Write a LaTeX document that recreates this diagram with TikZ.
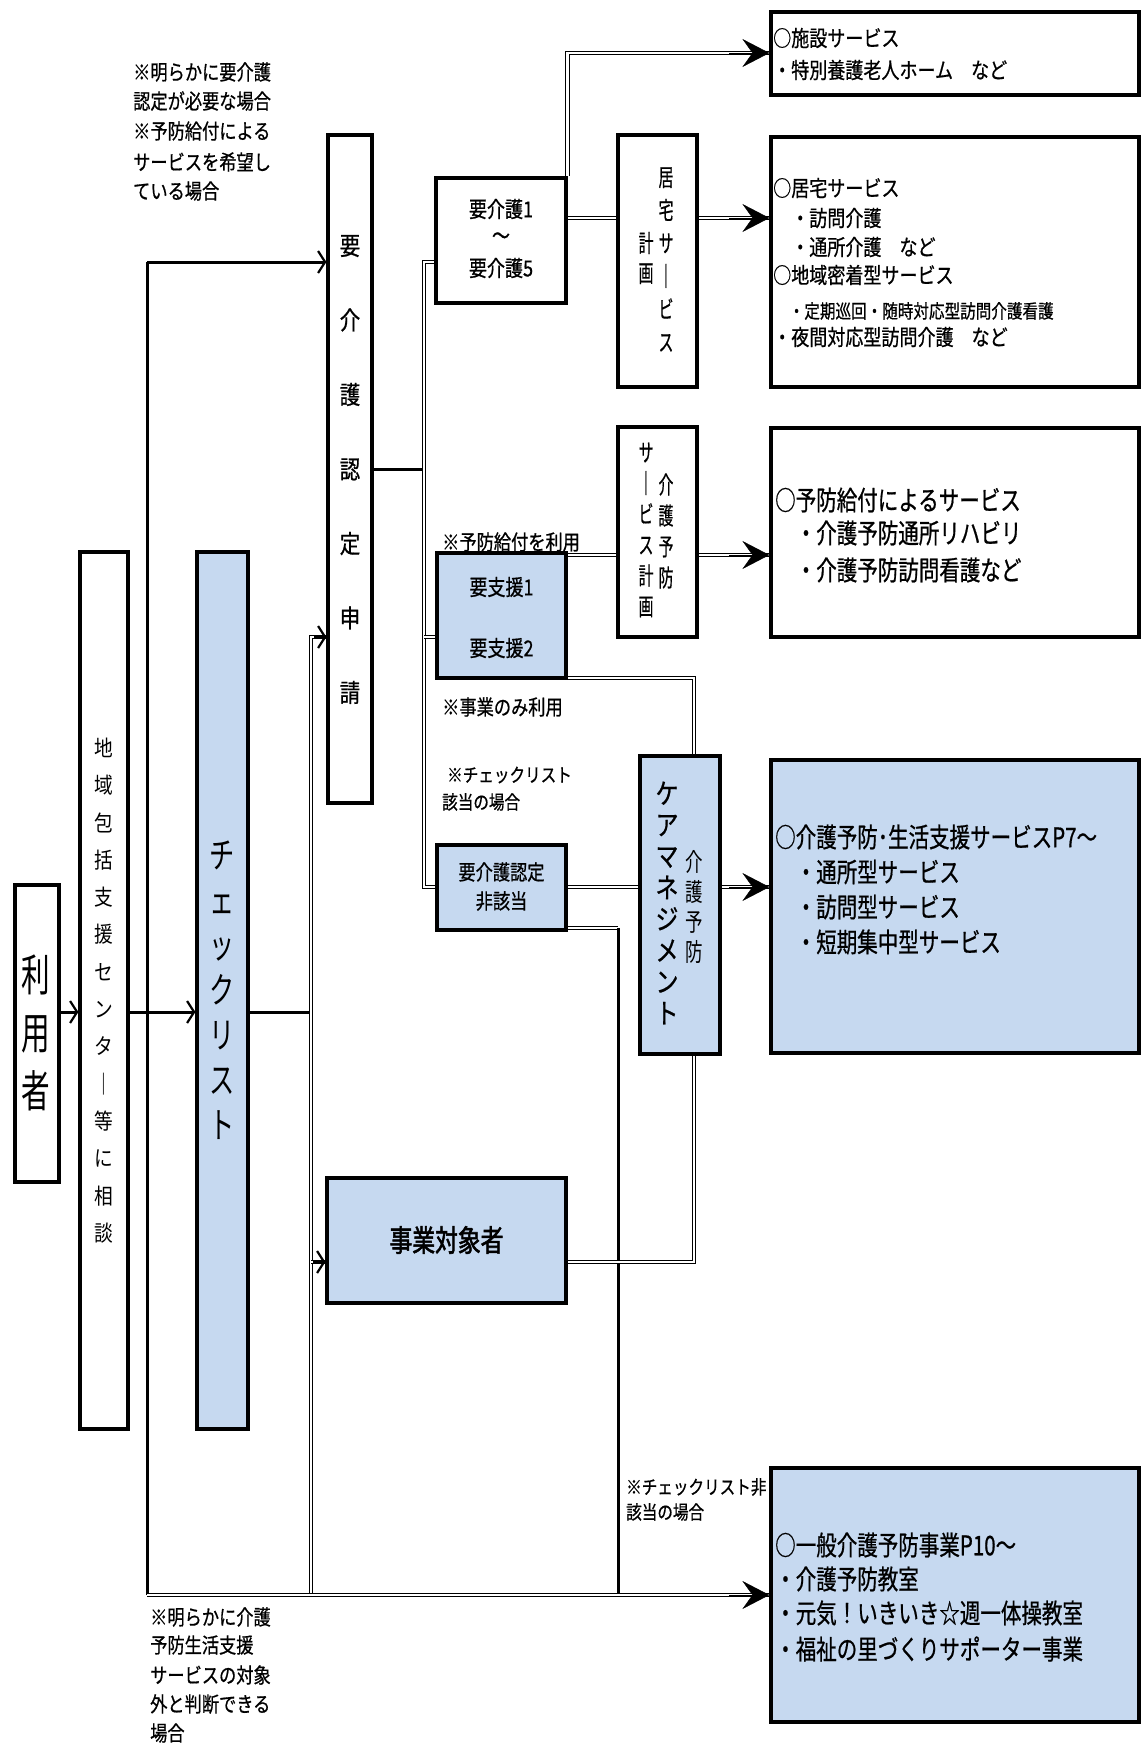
\documentclass[tikz,border=0pt]{standalone}
\usepackage{fontspec}
\usetikzlibrary{arrows.meta,calc}
\newfontfamily\jpL[FakeStretch=0.82,FakeBold=0.7]{Noto Sans CJK JP}
\newfontfamily\jpM[FakeStretch=0.76,FakeBold=0.7]{Noto Sans CJK JP}
\newfontfamily\jpN[FakeStretch=0.62,FakeBold=0.5]{Noto Sans CJK JP}
\newfontfamily\jpV[FakeStretch=0.85]{Noto Sans CJK JP}
\newfontfamily\jpT[FakeStretch=0.70]{Noto Sans CJK JP}
\newfontfamily\jpR[FakeStretch=0.65]{Noto Sans CJK JP}
\newfontfamily\jpBd[FakeStretch=0.76,FakeBold=1.8]{Noto Sans CJK JP}
\newcommand\fsz[2]{\fontsize{#1}{#2}\selectfont}
\definecolor{lb}{RGB}{198,217,240}
\pgfdeclarelayer{bg}
\pgfsetlayers{bg,main}
\tikzset{
  box/.style={draw=black, line width=3.2pt, inner sep=0pt, rectangle, fill=white},
  bbox/.style={box, fill=lb},
  dbl/.style={draw=black, double=white, line width=1.2pt, double distance=2.4pt, line join=miter},
  sgl/.style={draw=black, line width=3pt},
  smallarrow/.style={-{Straight Barb[length=7pt,width=22pt,line width=2.2pt]}},
  tipA/.style={draw=black, line width=0.4pt, -{Stealth[length=27pt,width=28pt,inset=10pt]}},
  lbl/.style={inner sep=0pt, anchor=west},
  ctr/.style={inner sep=0pt, anchor=center},
  vt/.style={inner sep=0pt, align=center},
}
\begin{document}
\begin{tikzpicture}[x=1pt,y=-1pt]
\useasboundingbox (0,0) rectangle (1144,1753);
% ---------------- boxes
\node[box,  minimum width=44pt,  minimum height=297pt] (riyo)     at (37,1033.5) {};
\node[box,  minimum width=48pt,  minimum height=877pt] (chiiki)   at (104,990.5) {};
\node[bbox, minimum width=51pt,  minimum height=877pt] (check)    at (222.5,990.5) {};
\node[box,  minimum width=44pt,  minimum height=668pt] (shinsei)  at (350,469) {};
\node[box,  minimum width=130pt, minimum height=125pt] (kaigo)    at (501,240.5) {};
\node[box,  minimum width=79pt,  minimum height=252pt] (kplan)    at (657.5,261) {};
\node[box,  minimum width=368pt, minimum height=83pt]  (shisetsu) at (955,53.5) {};
\node[box,  minimum width=368pt, minimum height=250pt] (kyotaku)  at (955,262) {};
\node[bbox, minimum width=129pt, minimum height=125pt] (shien)    at (501.5,615.5) {};
\node[box,  minimum width=79pt,  minimum height=210pt] (yplan)    at (657.5,532) {};
\node[box,  minimum width=368pt, minimum height=209pt] (yobo)     at (955,532.5) {};
\node[bbox, minimum width=80pt,  minimum height=298pt] (care)     at (680,905) {};
\node[bbox, minimum width=368pt, minimum height=293pt] (seikatsu) at (955,906.5) {};
\node[bbox, minimum width=129pt, minimum height=85pt]  (higai)    at (501.5,887.5) {};
\node[bbox, minimum width=239pt, minimum height=125pt] (jigyo)    at (446.5,1240.5) {};
\node[bbox, minimum width=368pt, minimum height=254pt] (ippan)    at (955,1595) {};
% ---------------- reference coordinates
\coordinate (X147) at (147,0);
\coordinate (X311) at (311,0);
\coordinate (X424) at (424,0);
\coordinate (X618) at (618,0);
\coordinate (X694) at (694,0);
\coordinate (L53) at (0,53);
\coordinate (L218) at (0,218);
\coordinate (L262) at (0,262);
\coordinate (L469) at (0,469);
\coordinate (L555) at (0,555);
\coordinate (L637) at (0,637);
\coordinate (L678) at (0,678);
\coordinate (L887) at (0,887);
\coordinate (L928) at (0,928);
\coordinate (L1012) at (0,1012);
\coordinate (L1262) at (0,1262);
\coordinate (L1595) at (0,1595);
% ---------------- connectors
\begin{pgfonlayer}{bg}
\fill[white] (0,0) rectangle (1144,1753);
\draw[sgl] (X147|-L262) -- (X147|-L1595);
\draw[sgl, smallarrow] (X147|-L262) -- (shinsei.west|-L262);
\draw[sgl, smallarrow] (riyo.east|-L1012) -- (chiiki.west|-L1012);
\draw[sgl, smallarrow] (chiiki.east|-L1012) -- (check.west|-L1012);
\draw[sgl] (check.east|-L1012) -- (X311|-L1012);
\draw[dbl] (shinsei.west|-L637) -- (X311|-L637) -- (X311|-L1595);
\draw[dbl] (X311|-L1262) -- (jigyo.west|-L1262);
\draw[sgl] (shinsei.east|-L469) -- (X424|-L469);
\draw[dbl] (kaigo.west|-L262) -- (X424|-L262) -- (X424|-L887) -- (higai.west|-L887);
\draw[dbl] (X424|-L637) -- (shien.west|-L637);
\draw[dbl] (kaigo.east|-L218) -- (kplan.west|-L218);
\draw[dbl] (kplan.east|-L218) -- (kyotaku.west|-L218);
\draw[dbl] (kaigo.north east) -- (kaigo.north east|-L53) -- (shisetsu.west|-L53);
\draw[dbl] (shien.east|-L555) -- (yplan.west|-L555);
\draw[dbl] (yplan.east|-L555) -- (yobo.west|-L555);
\draw[dbl] (shien.east|-L678) -- (X694|-L678) -- (care.north-|X694);
\draw[dbl] (higai.east|-L887) -- (care.west|-L887);
\draw[dbl] (care.east|-L887) -- (seikatsu.west|-L887);
\draw[dbl] (higai.east|-L928) -- (X618|-L928);
\draw[sgl] (X618|-L928) -- (X618|-L1595);
\draw[dbl] (jigyo.east|-L1262) -- (X694|-L1262) -- (care.south-|X694);
\draw[dbl] (X147|-L1595) -- (ippan.west|-L1595);
\end{pgfonlayer}
% ---------------- arrow heads
\draw[sgl, smallarrow] ($(shinsei.west|-L637)+(-12,0)$) -- (shinsei.west|-L637);
\draw[sgl, smallarrow] ($(jigyo.west|-L1262)+(-12,0)$) -- (jigyo.west|-L1262);
\draw[tipA] ($(shisetsu.west|-L53)+(-40,0)$) -- (shisetsu.west|-L53);
\draw[tipA] ($(kyotaku.west|-L218)+(-40,0)$) -- (kyotaku.west|-L218);
\draw[tipA] ($(yobo.west|-L555)+(-40,0)$) -- (yobo.west|-L555);
\draw[tipA] ($(seikatsu.west|-L887)+(-40,0)$) -- (seikatsu.west|-L887);
\draw[tipA] ($(ippan.west|-L1595)+(-40,0)$) -- (ippan.west|-L1595);
% ---------------- vertical texts
\node[vt, font=\jpR\fsz{44}{58}] (triyo) at (36,1033) {利\\用\\者};
\node[vt, font=\jpV\fsz{22}{37.3}] (tchiiki) at (104,990.5) {地\\域\\包\\括\\支\\援\\セ\\ン\\タ\\｜\\等\\に\\相\\談};
\node[vt, font=\jpT\fsz{36}{45}] (tcheck) at (222,990) {チ\\ェ\\ッ\\ク\\リ\\ス\\ト};
\node[vt, font=\jpL\fsz{25}{74.5}] (tshinsei) at (350,469.5) {要\\介\\護\\認\\定\\申\\請};
\node[vt, font=\jpN\fsz{24}{33}] (tkplan1) at (666,259.5) {居\\宅\\サ\\｜\\ビ\\ス};
\node[vt, font=\jpN\fsz{24}{30}] (tkplan2) at (646,258) {計\\画};
\node[vt, font=\jpN\fsz{24}{31}] (typlan1) at (666,531) {介\\護\\予\\防};
\node[vt, font=\jpN\fsz{24}{30.8}] (typlan2) at (646,530) {サ\\｜\\ビ\\ス\\計\\画};
\node[vt, font=\jpT\fsz{25}{30}] (tcare1) at (694,907) {介\\護\\予\\防};
\node[vt, font=\jpL\fsz{28}{31.4}] (tcare2) at (667,903) {ケ\\ア\\マ\\ネ\\ジ\\メ\\ン\\ト};
% ---------------- free labels
\node[lbl, font=\jpL\fsz{21}{25}] (la1) at (133,72)  {※明らかに要介護};
\node[lbl, font=\jpL\fsz{21}{25}] (la2) at (133,101) {認定が必要な場合};
\node[lbl, font=\jpL\fsz{21}{25}] (la3) at (133,131) {※予防給付による};
\node[lbl, font=\jpL\fsz{21}{25}] (la4) at (133,162) {サービスを希望し};
\node[lbl, font=\jpL\fsz{21}{25}] (la5) at (133,191) {ている場合};
\node[lbl, font=\jpL\fsz{21}{25}] (lb1) at (150,1617) {※明らかに介護};
\node[lbl, font=\jpL\fsz{21}{25}] (lb2) at (150,1645) {予防生活支援};
\node[lbl, font=\jpL\fsz{21}{25}] (lb3) at (150,1675) {サービスの対象};
\node[lbl, font=\jpL\fsz{21}{25}] (lb4) at (150,1704) {外と判断できる};
\node[lbl, font=\jpL\fsz{21}{25}] (lb5) at (150,1733) {場合};
\node[lbl, font=\jpL\fsz{21}{25}] (lc1) at (442,542) {※予防給付を利用};
\node[lbl, font=\jpL\fsz{21}{25}] (lc2) at (442,707) {※事業のみ利用};
\node[lbl, font=\jpL\fsz{19}{23}] (lc3) at (447,775) {※チェックリスト};
\node[lbl, font=\jpL\fsz{19}{23}] (lc4) at (442,802) {該当の場合};
\node[lbl, font=\jpL\fsz{19}{23}] (lc5) at (626,1487) {※チェックリスト非};
\node[lbl, font=\jpL\fsz{19}{23}] (lc6) at (626,1512) {該当の場合};
% ---------------- box texts (centre column)
\node[ctr, font=\jpL\fsz{22}{26}] (tk1) at (501,209) {要介護1};
\node[ctr, font=\jpL\fsz{22}{26}] (tk2) at (501,238) {～};
\node[ctr, font=\jpL\fsz{22}{26}] (tk3) at (501,268) {要介護5};
\node[ctr, font=\jpL\fsz{22}{26}] (ts1) at (501.5,587) {要支援1};
\node[ctr, font=\jpL\fsz{22}{26}] (ts2) at (501.5,648) {要支援2};
\node[ctr, font=\jpL\fsz{21}{25}] (th1) at (501.5,872) {要介護認定};
\node[ctr, font=\jpL\fsz{21}{25}] (th2) at (501.5,901) {非該当};
\node[ctr, font=\jpBd\fsz{30}{34}] (tj1) at (446.5,1240) {事業対象者};
% ---------------- right box texts
\node[lbl, font=\jpL\fsz{22}{26}] (r11) at (773,38) {○施設サービス};
\node[lbl, font=\jpL\fsz{22}{26}] (r12) at (773,70) {・特別養護老人ホーム　など};
\node[lbl, font=\jpL\fsz{22}{26}] (r21) at (773,188) {○居宅サービス};
\node[lbl, font=\jpL\fsz{22}{26}] (r22) at (773,218) {　・訪問介護};
\node[lbl, font=\jpL\fsz{22}{26}] (r23) at (773,247) {　・通所介護　など};
\node[lbl, font=\jpL\fsz{22}{26}] (r24) at (773,275) {○地域密着型サービス};
\node[lbl, font=\jpL\fsz{19}{23}] (r25) at (773,311) {　・定期巡回・随時対応型訪問介護看護};
\node[lbl, font=\jpL\fsz{22}{26}] (r26) at (773,337) {・夜間対応型訪問介護　など};
\node[lbl, font=\jpM\fsz{27}{31}] (r31) at (775,500) {○予防給付によるサービス};
\node[lbl, font=\jpM\fsz{27}{31}] (r32) at (775,533) {　・介護予防通所リハビリ};
\node[lbl, font=\jpM\fsz{27}{31}] (r33) at (775,570) {　・介護予防訪問看護など};
\node[lbl, font=\jpM\fsz{27}{31}] (r41) at (775,837) {○介護予防･生活支援サービスP7～};
\node[lbl, font=\jpM\fsz{27}{31}] (r42) at (775,872) {　・通所型サービス};
\node[lbl, font=\jpM\fsz{27}{31}] (r43) at (775,907) {　・訪問型サービス};
\node[lbl, font=\jpM\fsz{27}{31}] (r44) at (775,942) {　・短期集中型サービス};
\node[lbl, font=\jpM\fsz{27}{31}] (r51) at (775,1545) {○一般介護予防事業P10～};
\node[lbl, font=\jpM\fsz{27}{31}] (r52) at (775,1579) {・介護予防教室};
\node[lbl, font=\jpM\fsz{27}{31}] (r53) at (775,1613) {・元気！いきいき☆週一体操教室};
\node[lbl, font=\jpM\fsz{27}{31}] (r54) at (775,1649) {・福祉の里づくりサポーター事業};
\end{tikzpicture}
\end{document}
